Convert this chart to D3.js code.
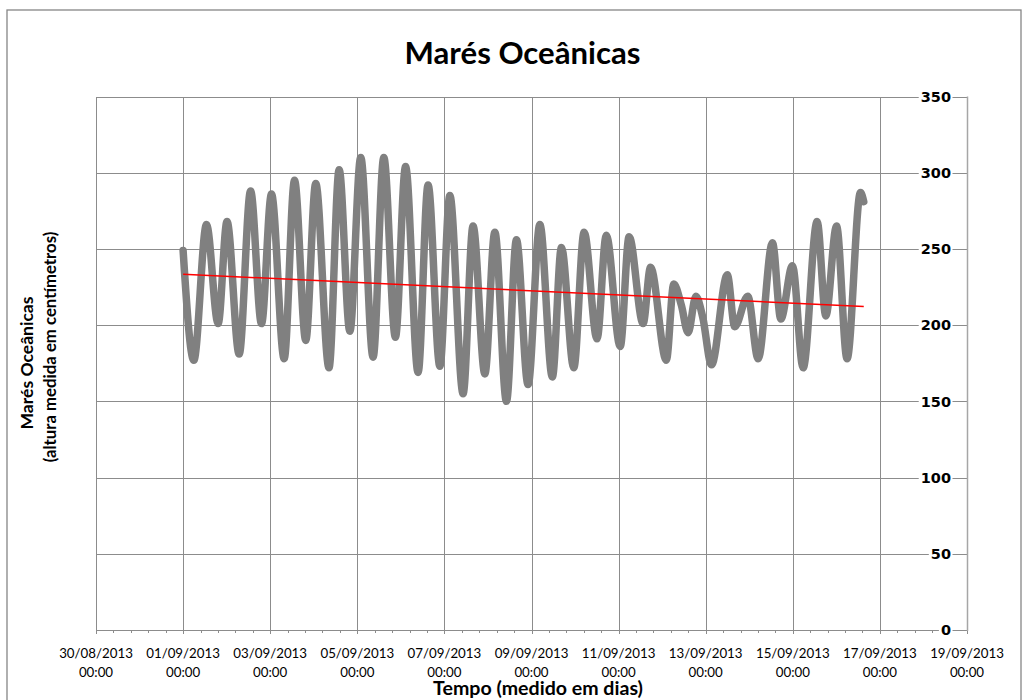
<!DOCTYPE html>
<html><head><meta charset="utf-8">
<script src="https://cdn.jsdelivr.net/npm/d3@7"></script>
<style>body{margin:0;background:#fff}</style>
</head><body>
<svg id="chart" width="1023" height="700"></svg>
<script>
// ---------- data ----------
const chartTitle = "Marés Oceânicas";
const yTitleLines = ["Marés Oceânicas", "(altura medida em centímetros)"];
const xTitle = "Tempo (medido em dias)";
const seriesStart = "2013-09-01T00:00:00";
// hours after seriesStart of each turning point of the tide record
const tideHours = [0, 5.9, 12.9, 19.3, 24.2, 30.9, 37.2, 43.2, 48.7, 55.7,
  61.4, 67.6, 73.1, 80.4, 86.0, 91.9, 97.9, 104.7, 110.6, 117.0,
  122.6, 129.5, 135.0, 141.5, 147.0, 154.3, 159.8, 166.3, 171.8, 178.2,
  183.7, 190.1, 196.6, 203.5, 208.5, 215.3, 221.0, 228.1, 233.2, 240.9,
  245.8, 253.5, 257.6, 266.3, 270.4, 274.6, 278.3, 282.6, 286.4, 291.2,
  299.9, 304.0, 311.2, 316.9, 324.8, 329.4, 335.8, 341.7, 349.4, 354.2,
  360.1, 365.9, 373.3, 375.1];
// sea level (cm)
const tideLevels = [249, 177, 266, 201, 268, 181, 288, 201, 286, 178,
  295, 190, 293, 172, 302, 196, 310, 179, 310, 192,
  304, 169, 292, 173, 285, 155, 265, 168, 261, 150,
  256, 161, 266, 166, 251, 172, 261, 191, 259, 186,
  258, 201, 238, 177, 227, 213, 195, 219, 205, 174,
  233, 199, 219, 178, 254, 204, 239, 172, 268, 206,
  265, 178, 287, 281];
const trendHours = [0, 375.1];
const trendLevels = [233.4, 212.2];
const xTickDates = ["2013-08-30T00:00:00","2013-09-01T00:00:00","2013-09-03T00:00:00",
  "2013-09-05T00:00:00","2013-09-07T00:00:00","2013-09-09T00:00:00","2013-09-11T00:00:00",
  "2013-09-13T00:00:00","2013-09-15T00:00:00","2013-09-17T00:00:00","2013-09-19T00:00:00"];
const xTickLabels = ["30/08/2013","01/09/2013","03/09/2013","05/09/2013","07/09/2013",
  "09/09/2013","11/09/2013","13/09/2013","15/09/2013","17/09/2013","19/09/2013"];
const xTickTimes = ["00:00","00:00","00:00","00:00","00:00","00:00","00:00","00:00","00:00","00:00","00:00"];
const yTicks = [0, 50, 100, 150, 200, 250, 300, 350];

// ---------- layout ----------
const parse = d3.timeParse("%Y-%m-%dT%H:%M:%S");
const svg = d3.select("#chart");
const L = 96, R = 967, T = 96.5, B = 630;
const x = d3.scaleTime().domain([parse(xTickDates[0]), parse(xTickDates[xTickDates.length-1])]).range([L, R]);
const y = d3.scaleLinear().domain([0, 350]).range([B, T]);
const t0 = parse(seriesStart);
const hToDate = h => new Date(t0.getTime() + h * 3600000);

function fit(sel, w) {
  const len = sel.node().getComputedTextLength();
  const fs = parseFloat(sel.attr("font-size"));
  sel.attr("font-size", fs * w / len);
}

// chart area border
svg.append("rect").attr("x", 7).attr("y", 10).attr("width", 1014).attr("height", 720)
  .attr("fill", "#fff").attr("stroke", "#868686").attr("stroke-width", 1.3);

// gridlines
const grid = svg.append("g").attr("stroke", "#8c8c8c").attr("stroke-width", 1).attr("shape-rendering", "crispEdges");
grid.selectAll("line.h").data(yTicks).join("line")
  .attr("x1", L).attr("x2", R).attr("y1", d => Math.round(y(d)) + 0.5).attr("y2", d => Math.round(y(d)) + 0.5);
grid.selectAll("line.v").data(xTickDates).join("line")
  .attr("x1", d => Math.round(x(parse(d))) + 0.5).attr("x2", d => Math.round(x(parse(d))) + 0.5)
  .attr("y1", T).attr("y2", B + 4);

// minor ticks on x axis (every 0.4 day)
const minor = d3.range(0, 20 * 24 + 0.01, 9.6).map(h => new Date(parse(xTickDates[0]).getTime() + h * 3600000));
grid.selectAll("line.m").data(minor).join("line")
  .attr("x1", d => Math.round(x(d)) + 0.5).attr("x2", d => Math.round(x(d)) + 0.5)
  .attr("y1", B).attr("y2", B + 3);

// right axis line
svg.append("line").attr("x1", R + 0.5).attr("x2", R + 0.5).attr("y1", T).attr("y2", B + 1)
  .attr("stroke", "#a6a6a6").attr("stroke-width", 1.5);

// series
const pts = tideHours.map((h, i) => ({ t: hToDate(h), v: tideLevels[i] }));
const line = d3.line().x(d => x(d.t)).y(d => y(d.v)).curve(d3.curveMonotoneX);
svg.append("path").datum(pts).attr("d", line)
  .attr("fill", "none").attr("stroke", "#808080").attr("stroke-width", 7.5)
  .attr("stroke-linejoin", "round").attr("stroke-linecap", "round");

// trend line
const trend = trendHours.map((h, i) => ({ t: hToDate(h), v: trendLevels[i] }));
svg.append("path").datum(trend).attr("d", d3.line().x(d => x(d.t)).y(d => y(d.v)))
  .attr("fill", "none").attr("stroke", "#ff0000").attr("stroke-width", 1.5);

// y tick labels (inside, with white background)
const yl = svg.append("g");
yTicks.forEach(v => {
  const g = yl.append("g");
  const t = g.append("text").attr("x", 951).attr("y", y(v)).attr("dy", "0.36em")
    .attr("text-anchor", "end").attr("font-family", "DejaVu Sans").attr("font-weight", "bold")
    .attr("font-size", 14.5).attr("fill", "#000").text(v);
  const bb = t.node().getBBox();
  g.insert("rect", "text").attr("x", bb.x - 2).attr("y", bb.y + 1).attr("width", bb.width + 3.5).attr("height", bb.height - 2).attr("fill", "#fff");
});

// x tick labels
const xl = svg.append("g").attr("font-family", "Lato, 'Open Sans', sans-serif").attr("font-size", 13.3).attr("fill", "#000").attr("text-anchor", "middle");
xTickDates.forEach((d, i) => {
  xl.append("text").attr("x", x(parse(d))).attr("y", 658).text(xTickLabels[i]);
  xl.append("text").attr("x", x(parse(d))).attr("y", 677).text(xTickTimes[i]);
});

// titles
const tt = svg.append("text").attr("x", 522.5).attr("y", 63.5).attr("text-anchor", "middle")
  .attr("font-family", "Lato, sans-serif").attr("font-weight", "bold").attr("font-size", 28).text(chartTitle);
fit(tt, 236);

const xt = svg.append("text").attr("x", 538).attr("y", 695).attr("text-anchor", "middle")
  .attr("font-family", "Lato, sans-serif").attr("font-weight", "bold").attr("font-size", 16).text(xTitle);
fit(xt, 210);

const y1 = svg.append("text").attr("transform", "translate(33,363) rotate(-90)").attr("text-anchor", "middle")
  .attr("font-family", "Lato, sans-serif").attr("font-weight", "bold").attr("font-size", 15).text(yTitleLines[0]);
fit(y1, 133);
const y2 = svg.append("text").attr("transform", "translate(56,347) rotate(-90)").attr("text-anchor", "middle")
  .attr("font-family", "Lato, sans-serif").attr("font-weight", "bold").attr("font-size", 15).text(yTitleLines[1]);
fit(y2, 231);
</script>
</body></html>
